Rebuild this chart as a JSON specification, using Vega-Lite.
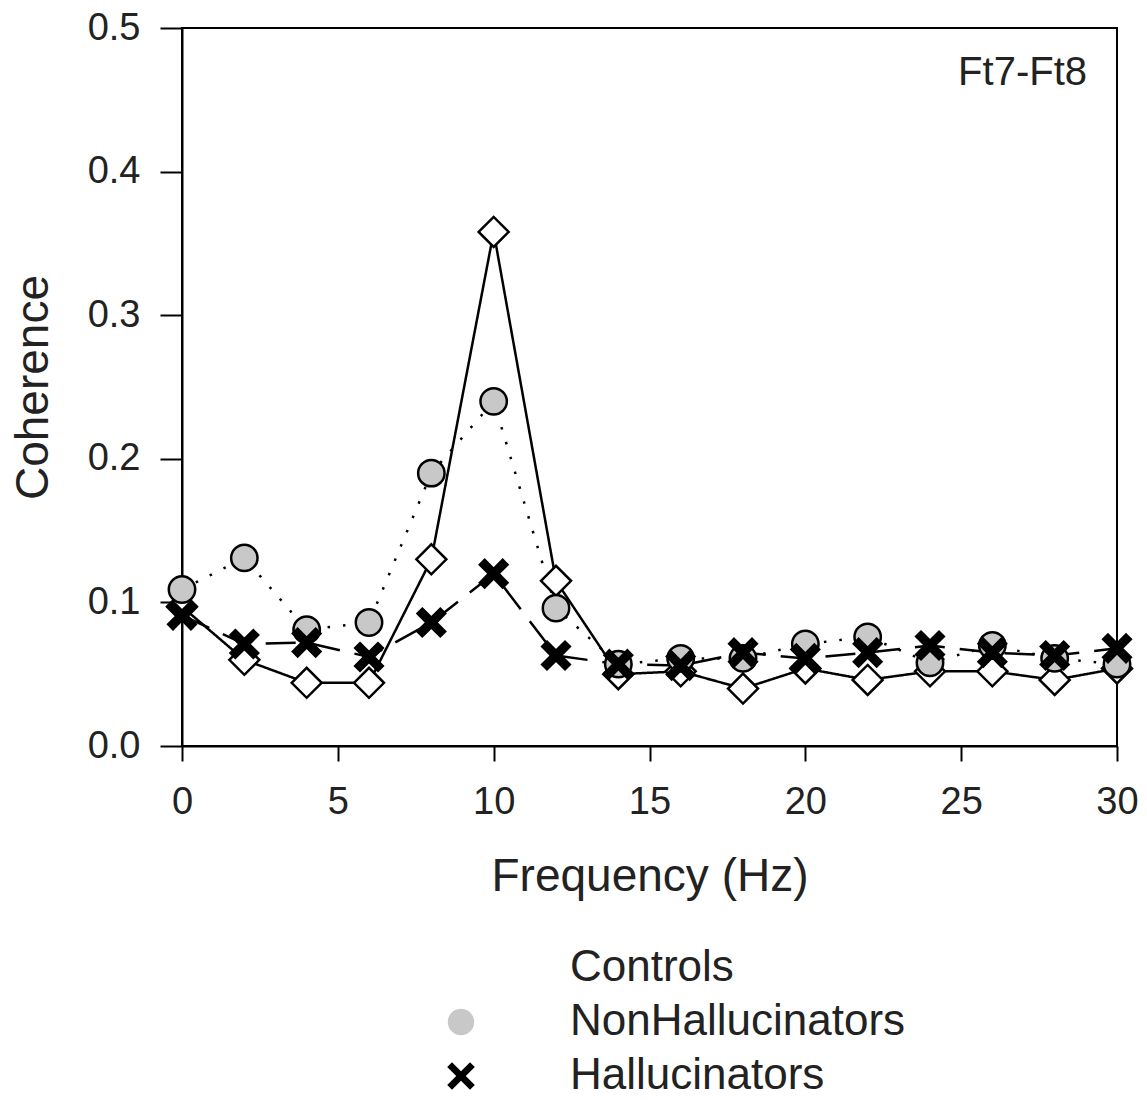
{
  "$schema": "https://vega.github.io/schema/vega-lite/v6.json",
  "width": 935,
  "height": 718,
  "autosize": {"type": "none"},
  "padding": {"left": 182, "top": 28, "right": 30, "bottom": 354},
  "background": "white",
  "config": {
    "font": "Liberation Sans",
    "view": {"stroke": "black", "strokeWidth": 2},
    "axis": {
      "domainColor": "black", "domainWidth": 2,
      "tickColor": "black", "tickWidth": 2,
      "grid": false,
      "labelColor": "#222", "titleColor": "#222",
      "labelFont": "Liberation Sans", "titleFont": "Liberation Sans",
      "labelFontSize": 38, "titleFontSize": 46, "titleFontWeight": "normal"
    }
  },
  "data": {
    "values": [
      {"group": "Controls", "freq": 0, "coh": 0.097},
      {"group": "Controls", "freq": 2, "coh": 0.060},
      {"group": "Controls", "freq": 4, "coh": 0.044},
      {"group": "Controls", "freq": 6, "coh": 0.044},
      {"group": "Controls", "freq": 8, "coh": 0.130},
      {"group": "Controls", "freq": 10, "coh": 0.358},
      {"group": "Controls", "freq": 12, "coh": 0.115},
      {"group": "Controls", "freq": 14, "coh": 0.050},
      {"group": "Controls", "freq": 16, "coh": 0.052},
      {"group": "Controls", "freq": 18, "coh": 0.040},
      {"group": "Controls", "freq": 20, "coh": 0.054},
      {"group": "Controls", "freq": 22, "coh": 0.046},
      {"group": "Controls", "freq": 24, "coh": 0.052},
      {"group": "Controls", "freq": 26, "coh": 0.052},
      {"group": "Controls", "freq": 28, "coh": 0.046},
      {"group": "Controls", "freq": 30, "coh": 0.054},
      {"group": "NonHallucinators", "freq": 0, "coh": 0.109},
      {"group": "NonHallucinators", "freq": 2, "coh": 0.131},
      {"group": "NonHallucinators", "freq": 4, "coh": 0.081},
      {"group": "NonHallucinators", "freq": 6, "coh": 0.086},
      {"group": "NonHallucinators", "freq": 8, "coh": 0.190},
      {"group": "NonHallucinators", "freq": 10, "coh": 0.240},
      {"group": "NonHallucinators", "freq": 12, "coh": 0.096},
      {"group": "NonHallucinators", "freq": 14, "coh": 0.057},
      {"group": "NonHallucinators", "freq": 16, "coh": 0.061},
      {"group": "NonHallucinators", "freq": 18, "coh": 0.061},
      {"group": "NonHallucinators", "freq": 20, "coh": 0.071},
      {"group": "NonHallucinators", "freq": 22, "coh": 0.076},
      {"group": "NonHallucinators", "freq": 24, "coh": 0.058},
      {"group": "NonHallucinators", "freq": 26, "coh": 0.070},
      {"group": "NonHallucinators", "freq": 28, "coh": 0.061},
      {"group": "NonHallucinators", "freq": 30, "coh": 0.057},
      {"group": "Hallucinators", "freq": 0, "coh": 0.091},
      {"group": "Hallucinators", "freq": 2, "coh": 0.071},
      {"group": "Hallucinators", "freq": 4, "coh": 0.072},
      {"group": "Hallucinators", "freq": 6, "coh": 0.062},
      {"group": "Hallucinators", "freq": 8, "coh": 0.086},
      {"group": "Hallucinators", "freq": 10, "coh": 0.120},
      {"group": "Hallucinators", "freq": 12, "coh": 0.063},
      {"group": "Hallucinators", "freq": 14, "coh": 0.057},
      {"group": "Hallucinators", "freq": 16, "coh": 0.056},
      {"group": "Hallucinators", "freq": 18, "coh": 0.065},
      {"group": "Hallucinators", "freq": 20, "coh": 0.061},
      {"group": "Hallucinators", "freq": 22, "coh": 0.065},
      {"group": "Hallucinators", "freq": 24, "coh": 0.070},
      {"group": "Hallucinators", "freq": 26, "coh": 0.065},
      {"group": "Hallucinators", "freq": 28, "coh": 0.063},
      {"group": "Hallucinators", "freq": 30, "coh": 0.068}
    ]
  },
  "encoding": {
    "x": {
      "field": "freq", "type": "quantitative",
      "scale": {"domain": [0, 30], "nice": false, "zero": false},
      "axis": {"values": [0, 5, 10, 15, 20, 25, 30], "tickSize": 15, "labelPadding": 22, "title": "Frequency (Hz)", "titlePadding": 33, "labelFlush": false}
    },
    "y": {
      "field": "coh", "type": "quantitative",
      "scale": {"domain": [0, 0.5], "nice": false},
      "axis": {"values": [0, 0.1, 0.2, 0.3, 0.4, 0.5], "format": ".1f", "tickSize": 22, "labelPadding": 20, "title": "Coherence", "titlePadding": 30, "labelFlush": false}
    }
  },
  "layer": [
    {
      "mark": {"type": "line", "color": "black", "strokeWidth": 2.5},
      "encoding": {
        "strokeDash": {
          "field": "group", "type": "nominal",
          "scale": {"domain": ["Hallucinators", "Controls", "NonHallucinators"], "range": [[30, 15], [1, 0], [2.5, 13]]},
          "legend": null
        }
      }
    },
    {
      "transform": [{"filter": "datum.group === 'Controls'"}],
      "mark": {"type": "point", "filled": true, "fill": "white", "stroke": "black", "strokeWidth": 2.5, "opacity": 1, "size": 900, "shape": "M-1,0L0,-1L1,0L0,1Z"}
    },
    {
      "transform": [{"filter": "datum.group === 'NonHallucinators'"}],
      "mark": {"type": "point", "filled": true, "fill": "#c8c8c8", "stroke": "black", "strokeWidth": 2.5, "opacity": 1, "size": 900, "shape": "M0.88,0A0.88,0.88 0 1,1 -0.88,0A0.88,0.88 0 1,1 0.88,0Z"}
    },
    {
      "transform": [{"filter": "datum.group === 'Hallucinators'"}],
      "mark": {"type": "point", "filled": true, "fill": "black", "stroke": "black", "strokeWidth": 2.5, "opacity": 1, "size": 900, "shape": "M-0.6,-0.92L0,-0.32L0.6,-0.92L0.92,-0.6L0.32,0L0.92,0.6L0.6,0.92L0,0.32L-0.6,0.92L-0.92,0.6L-0.32,0L-0.92,-0.6Z"}
    },
    {
      "mark": {"type": "point", "filled": true, "stroke": "black", "strokeWidth": 2.5, "opacity": 0, "size": 900},
      "encoding": {
        "fill": {
          "field": "group", "type": "nominal",
          "scale": {"domain": ["Controls", "NonHallucinators", "Hallucinators"], "range": ["white", "#c8c8c8", "black"]},
          "legend": {
            "orient": "none", "legendX": 257, "legendY": 918,
            "title": null, "direction": "vertical",
            "symbolSize": 900, "symbolOpacity": 1, "symbolStrokeWidth": 2.5, "symbolStrokeColor": "black",
            "labelFontSize": 44, "labelFont": "Liberation Sans", "labelColor": "#222", "labelLimit": 600,
            "labelOffset": 87, "rowPadding": 10, "padding": 0
          }
        },
        "shape": {
          "field": "group", "type": "nominal",
          "scale": {
            "domain": ["Controls", "NonHallucinators", "Hallucinators"],
            "range": [
              "M-4.8,0L-1,0M1,0L4.8,0M-1,0L0,-1L1,0L0,1Z",
              "M-4.65,0L-4.5,0M-3.7,0L-3.55,0M-2.75,0L-2.6,0M-1.8,0L-1.65,0M1.3,0L1.45,0M2.25,0L2.4,0M3.2,0L3.35,0M4.15,0L4.3,0M0.88,0A0.88,0.88 0 1,1 -0.88,0A0.88,0.88 0 1,1 0.88,0Z",
              "M-4.5,0L-2.1,0M2.1,0L4.5,0M-0.6,-0.92L0,-0.32L0.6,-0.92L0.92,-0.6L0.32,0L0.92,0.6L0.6,0.92L0,0.32L-0.6,0.92L-0.92,0.6L-0.32,0L-0.92,-0.6Z"
            ]
          },
          "legend": {
            "orient": "none", "legendX": 257, "legendY": 918,
            "title": null, "direction": "vertical",
            "symbolSize": 900, "symbolOpacity": 1, "symbolStrokeWidth": 2.5, "symbolStrokeColor": "black",
            "labelFontSize": 44, "labelFont": "Liberation Sans", "labelColor": "#222", "labelLimit": 600,
            "labelOffset": 87, "rowPadding": 10, "padding": 0
          }
        }
      }
    },
    {
      "data": {"values": [{"label": "Ft7-Ft8", "fx": 30, "fy": 0.5}]},
      "mark": {"type": "text", "align": "right", "baseline": "alphabetic", "dx": -30, "dy": 57, "fontSize": 40, "font": "Liberation Sans", "color": "#222"},
      "encoding": {
        "x": {"field": "fx", "type": "quantitative"},
        "y": {"field": "fy", "type": "quantitative"},
        "text": {"field": "label"}
      }
    }
  ]
}
